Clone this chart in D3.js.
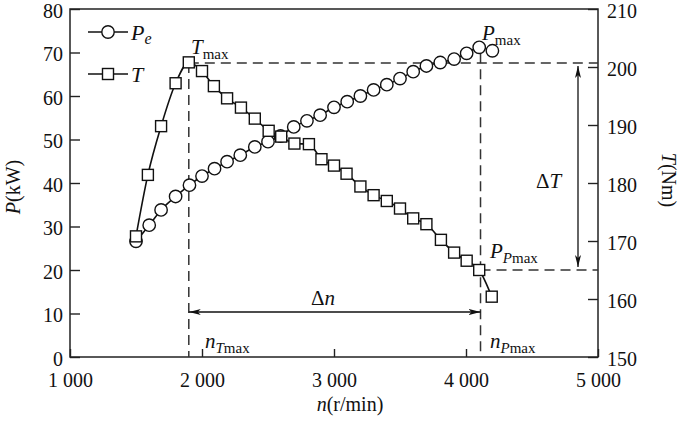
<!DOCTYPE html>
<head>
<meta charset="utf-8">
<title>P and T vs n</title>
<script src="https://d3js.org/d3.v7.min.js"></script>
<style>
body, html { margin: 0; padding: 0; background: #fff; }
svg text { font-family: "Liberation Serif", "DejaVu Serif", serif; fill: #111; }
.frame { fill: none; stroke: #222; stroke-width: 1.5px; }
.dash { fill: none; stroke: #333; stroke-width: 1.5px; stroke-dasharray: 10,6; }
.curve { fill: none; stroke: #111; stroke-width: 1.6px; }
.mark { fill: #fff; stroke: #111; stroke-width: 1.4px; }
.arrow { stroke: #111; stroke-width: 1.3px; }
</style>
</head>
<body>
<div id="chart"></div>
<script>
// torque curve T (Nm) vs speed n (r/min)
var tN = [1500,1590,1690,1800,1900,2000,2090,2190,2295,2400,2505,2600,2700,2810,2905,3000,3095,3200,3300,3400,3500,3600,3700,3810,3910,4005,4100,4195];
var tVal = [170.8,181.4,189.8,197.2,200.8,199.3,196.7,194.6,193.0,191.1,189.0,188.0,186.8,186.7,184.1,183.0,181.6,179.4,177.9,176.9,175.6,173.9,172.9,170.2,168.0,166.6,165.0,160.4];
// power curve Pe (kW) vs speed n
var pN = [1500,1600,1690,1800,1905,2000,2095,2190,2290,2400,2500,2595,2695,2795,2895,3000,3100,3200,3300,3400,3500,3600,3700,3805,3910,4005,4100,4200];
var pVal = [26.6,30.3,33.8,36.9,39.5,41.6,43.3,44.9,46.4,48.3,49.5,50.8,52.9,54.3,55.6,57.4,58.7,60.0,61.4,62.6,64.0,65.6,66.9,67.7,68.5,69.8,71.2,70.4];

var xTicks = [1000,2000,3000,4000,5000];
var xTickLabels = ["1 000","2 000","3 000","4 000","5 000"];
var pTicks = [0,10,20,30,40,50,60,70,80];
var tTicks = [150,160,170,180,190,200,210];

// marked points
var nTmax = 1900, Tmax = 200.7;
var nPmax = 4110, TatPmax = 165.0, Pmax = 71.2;

var width = 685, height = 427;
var svg = d3.select("#chart").append("svg")
    .attr("width", width)
    .attr("height", height);

var x = d3.scaleLinear().domain([1000,5000]).range([70,598]);
var yP = d3.scaleLinear().domain([0,80]).range([357,9]);
var yT = d3.scaleLinear().domain([150,210]).range([357,9]);

// arrowhead
var defs = svg.append("defs");
defs.append("marker")
    .attr("id","ah")
    .attr("viewBox","0 0 12 6")
    .attr("refX",12).attr("refY",3)
    .attr("markerWidth",12).attr("markerHeight",6)
    .attr("markerUnits","userSpaceOnUse")
    .attr("orient","auto-start-reverse")
  .append("path")
    .attr("d","M0,0 L12,3 L0,6 L3,3 Z")
    .attr("fill","#111");

// axes (ticks pointing inside)
var fs = "20px";
var bx = svg.append("g").attr("transform","translate(0,357)")
    .call(d3.axisBottom(x).tickValues(xTicks).tickSizeInner(-8).tickSizeOuter(0)
        .tickFormat(function(d,i){ return xTickLabels[i]; }));
bx.selectAll("text").attr("y",16).style("font-size",fs);
var ly = svg.append("g").attr("transform","translate(70,0)")
    .call(d3.axisLeft(yP).tickValues(pTicks).tickSizeInner(-10).tickSizeOuter(0));
ly.selectAll("text").attr("x",-7).attr("dy","0.42em").style("font-size",fs);
var ry = svg.append("g").attr("transform","translate(598,0)")
    .call(d3.axisRight(yT).tickValues(tTicks).tickSizeInner(-10).tickSizeOuter(0));
ry.selectAll("text").attr("x",9).attr("dy","0.42em").style("font-size",fs);
svg.selectAll(".domain").remove();
svg.selectAll(".tick line").attr("stroke","#222").attr("stroke-width",1.4);
svg.selectAll(".tick text").attr("fill","#111").attr("font-family","Liberation Serif");

svg.append("rect").attr("class","frame")
    .attr("x",x(1000)).attr("y",yP(80))
    .attr("width",x(5000)-x(1000)).attr("height",yP(0)-yP(80));

// guide lines
svg.append("line").attr("class","dash")
    .attr("x1",x(nTmax)).attr("x2",x(5000)).attr("y1",yT(Tmax)).attr("y2",yT(Tmax));
svg.append("line").attr("class","dash")
    .attr("x1",x(nTmax)).attr("x2",x(nTmax)).attr("y1",yT(Tmax)).attr("y2",yP(0));
svg.append("line").attr("class","dash")
    .attr("x1",x(nPmax)).attr("x2",x(nPmax)).attr("y1",yP(Pmax)+6).attr("y2",yP(0));
svg.append("line").attr("class","dash")
    .attr("x1",x(nPmax)).attr("x2",x(5000)).attr("y1",yT(TatPmax)).attr("y2",yT(TatPmax));

// delta T arrow
svg.append("line").attr("class","arrow")
    .attr("x1",578).attr("x2",578).attr("y1",yT(Tmax)+3).attr("y2",yT(TatPmax)-3)
    .attr("marker-start","url(#ah)").attr("marker-end","url(#ah)");
// delta n arrow
svg.append("line").attr("class","arrow")
    .attr("x1",x(nTmax)).attr("x2",x(nPmax)).attr("y1",312).attr("y2",312)
    .attr("marker-start","url(#ah)").attr("marker-end","url(#ah)");

// curves
var lineT = d3.line().curve(d3.curveMonotoneX)
    .x(function(d){ return x(d[0]); }).y(function(d){ return yT(d[1]); });
var lineP = d3.line().curve(d3.curveMonotoneX)
    .x(function(d){ return x(d[0]); }).y(function(d){ return yP(d[1]); });
var tData = d3.zip(tN, tVal), pData = d3.zip(pN, pVal);

svg.append("path").datum(pData).attr("class","curve").attr("d",lineP);
svg.append("path").datum(tData).attr("class","curve").attr("d",lineT);

svg.selectAll(".pm").data(pData).enter().append("circle")
    .attr("class","mark").attr("r",6.2)
    .attr("cx",function(d){ return x(d[0]); })
    .attr("cy",function(d){ return yP(d[1]); });
svg.selectAll(".tm").data(tData).enter().append("rect")
    .attr("class","mark").attr("width",11).attr("height",11)
    .attr("x",function(d){ return x(d[0]) - 5.5; })
    .attr("y",function(d){ return yT(d[1]) - 5.5; });

// legend
var lg = svg.append("g");
lg.append("line").attr("class","curve").attr("x1",88).attr("x2",128).attr("y1",32).attr("y2",32);
lg.append("circle").attr("class","mark").attr("r",6.2).attr("cx",108).attr("cy",32);
lg.append("line").attr("class","curve").attr("x1",88).attr("x2",128).attr("y1",74).attr("y2",74);
lg.append("rect").attr("class","mark").attr("width",11).attr("height",11).attr("x",102.5).attr("y",68.5);
var t1 = lg.append("text").attr("x",131).attr("y",40).style("font-size","22px");
t1.append("tspan").style("font-style","italic").text("P");
t1.append("tspan").style("font-style","italic").style("font-size","16px").attr("dy",4).text("e");
lg.append("text").attr("x",131).attr("y",82).style("font-size","22px").style("font-style","italic").text("T");

// annotations
function label(xp, yp, main, sub, subItalic, sub2) {
  var t = svg.append("text").attr("x",xp).attr("y",yp).style("font-size","21px");
  t.append("tspan").style("font-style","italic").text(main);
  var s = t.append("tspan").style("font-size","15px").attr("dy",5).text(sub);
  if (subItalic) s.style("font-style","italic");
  if (sub2) t.append("tspan").style("font-size","15px").text(sub2);
  return t;
}
label(191, 54, "T", "max", false);
label(482, 40, "P", "max", false);
label(490, 258, "P", "P", true, "max");
label(205, 348, "n", "T", true, "max");
label(490, 348, "n", "P", true, "max");

var dT = svg.append("text").attr("x",536).attr("y",188).style("font-size","21px");
dT.append("tspan").text("\u0394");
dT.append("tspan").style("font-style","italic").text("T");
var dn = svg.append("text").attr("x",323).attr("y",305).attr("text-anchor","middle").style("font-size","21px");
dn.append("tspan").text("\u0394");
dn.append("tspan").style("font-style","italic").text("n");

// axis titles
var xl = svg.append("text").attr("x",350).attr("y",411).attr("text-anchor","middle").style("font-size","20px");
xl.append("tspan").style("font-style","italic").text("n");
xl.append("tspan").text("(r/min)");
var pl = svg.append("text").attr("transform","translate(20,187) rotate(-90)").attr("text-anchor","middle").style("font-size","20px");
pl.append("tspan").style("font-style","italic").text("P");
pl.append("tspan").text("(kW)");
var tl = svg.append("text").attr("transform","translate(662,180) rotate(90)").attr("text-anchor","middle").style("font-size","20px");
tl.append("tspan").style("font-style","italic").text("T");
tl.append("tspan").text("(Nm)");
</script>
</body>
